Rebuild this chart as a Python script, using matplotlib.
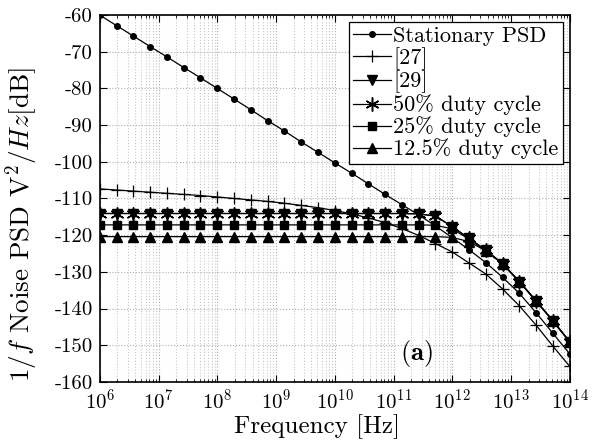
import matplotlib
matplotlib.use('Agg')
import matplotlib.pyplot as plt
from matplotlib.ticker import LogLocator, FixedLocator, NullFormatter

plt.rcParams['font.family'] = 'serif'
plt.rcParams['font.serif'] = ['cmr10']
plt.rcParams['mathtext.fontset'] = 'cm'
plt.rcParams['axes.unicode_minus'] = False
plt.rcParams['axes.formatter.use_mathtext'] = True

# sample frequencies as log10 exponents (29 points, 6 .. 14)
freq_exp = [6.000, 6.286, 6.571, 6.857, 7.143, 7.429, 7.714,
            8.000, 8.286, 8.571, 8.857, 9.143, 9.429, 9.714,
            10.000, 10.286, 10.571, 10.857, 11.143, 11.429, 11.714,
            12.000, 12.286, 12.571, 12.857, 13.143, 13.429, 13.714, 14.000]

psd_stationary = [-60.0, -62.9, -65.7, -68.6, -71.4, -74.3, -77.1,
                  -80.0, -82.9, -85.8, -88.8, -91.6, -94.6, -97.4,
                  -100.3, -103.1, -106.0, -108.9, -111.7, -114.5, -117.5,
                  -120.7, -124.0, -127.5, -131.5, -135.9, -141.2, -146.8, -152.4]

psd_ref27 = [-107.4, -107.7, -108.0, -108.3, -108.6, -108.9, -109.2,
             -109.6, -110.0, -110.4, -110.8, -111.3, -111.9, -112.5,
             -113.3, -114.2, -115.3, -116.6, -118.2, -120.1, -122.3,
             -124.6, -127.6, -130.6, -134.7, -139.3, -144.6, -150.3, -155.8]

psd_ref29 = [-114.1, -114.1, -114.1, -114.1, -114.1, -114.1, -114.1,
             -114.1, -114.1, -114.1, -114.1, -114.1, -114.1, -114.1,
             -114.1, -114.1, -114.1, -114.1, -114.1, -114.2, -114.8,
             -117.7, -120.9, -124.1, -127.8, -132.7, -138.0, -143.4, -149.1]

psd_duty50 = [-114.1, -114.1, -114.1, -114.1, -114.1, -114.1, -114.1,
              -114.1, -114.1, -114.1, -114.1, -114.1, -114.1, -114.1,
              -114.1, -114.1, -114.1, -114.1, -114.1, -114.2, -114.8,
              -117.7, -120.9, -124.1, -127.8, -132.7, -138.0, -143.4, -149.1]

psd_duty25 = [-117.2, -117.2, -117.2, -117.2, -117.2, -117.2, -117.2,
              -117.2, -117.2, -117.2, -117.2, -117.2, -117.2, -117.2,
              -117.2, -117.2, -117.2, -117.2, -117.2, -117.2, -117.3,
              -118.3, -121.1, -124.2, -127.8, -132.7, -138.0, -143.4, -149.1]

psd_duty125 = [-120.4, -120.4, -120.4, -120.4, -120.4, -120.4, -120.4,
               -120.4, -120.4, -120.4, -120.4, -120.4, -120.4, -120.4,
               -120.4, -120.4, -120.4, -120.4, -120.4, -120.4, -120.4,
               -120.6, -121.8, -124.3, -127.9, -132.7, -138.0, -143.4, -149.1]

freq = [10 ** e for e in freq_exp]

fig = plt.figure(figsize=(6.16, 4.43), dpi=100)
ax = fig.add_axes([0.162, 0.138, 0.763, 0.828])

ax.plot(freq, psd_stationary, 'k-', marker='o', ms=4, lw=0.9, label='Stationary PSD')
ax.plot(freq, psd_ref27, 'k-', marker='+', ms=9, mew=0.9, lw=0.9, label='[27]')
ax.plot(freq, psd_ref29, 'k-', marker='v', ms=7, lw=0.9, label='[29]')
ax.plot(freq, psd_duty50, 'k-', marker=(6, 2, 0), ms=10, mew=1.1, lw=0.9, label='50% duty cycle')
ax.plot(freq, psd_duty25, 'k-', marker='s', ms=6, lw=0.9, label='25% duty cycle')
ax.plot(freq, psd_duty125, 'k-', marker='^', ms=7, lw=0.9, label='12.5% duty cycle')

ax.set_xscale('log')
ax.set_xlim(1e6, 1e14)
ax.set_ylim(-160, -60)
ax.set_yticks(range(-160, -59, 10))
ax.set_yticklabels([str(v) for v in range(-160, -59, 10)])
ax.xaxis.set_major_locator(FixedLocator([10.0 ** k for k in range(6, 15)]))
ax.xaxis.set_minor_locator(LogLocator(base=10, subs=range(2, 10), numticks=100))
ax.xaxis.set_minor_formatter(NullFormatter())

ax.grid(True, which='major', color='#b0b0b0', linestyle=':', linewidth=0.8)
ax.grid(True, which='minor', axis='x', color='#c8c8c8', linestyle=':', linewidth=0.8)
ax.tick_params(which='both', direction='in', top=True, right=True, labelsize=15)
ax.tick_params(which='major', length=5, pad=5)
ax.tick_params(which='minor', length=2.5)
for sp in ax.spines.values():
    sp.set_linewidth(1.2)

ax.set_xlabel('Frequency [Hz]', fontsize=18)
ax.xaxis.set_label_coords(0.462, -0.088)
ax.set_ylabel(r'$1/f$ Noise PSD V$^2/Hz$[dB]', fontsize=19.5)
ax.yaxis.set_label_coords(-0.128, 0.43)

ax.text(1.3e11, -154, r'$\mathbf{(a)}$', fontsize=19)

leg = ax.legend(loc='upper right', fontsize=16, handlelength=1.7, handletextpad=0.1,
                labelspacing=0.05, borderpad=0.2, borderaxespad=0.3, fancybox=False,
                framealpha=1, edgecolor='k')
leg.get_frame().set_linewidth(0.9)

fig.savefig('out.png', dpi=100)
